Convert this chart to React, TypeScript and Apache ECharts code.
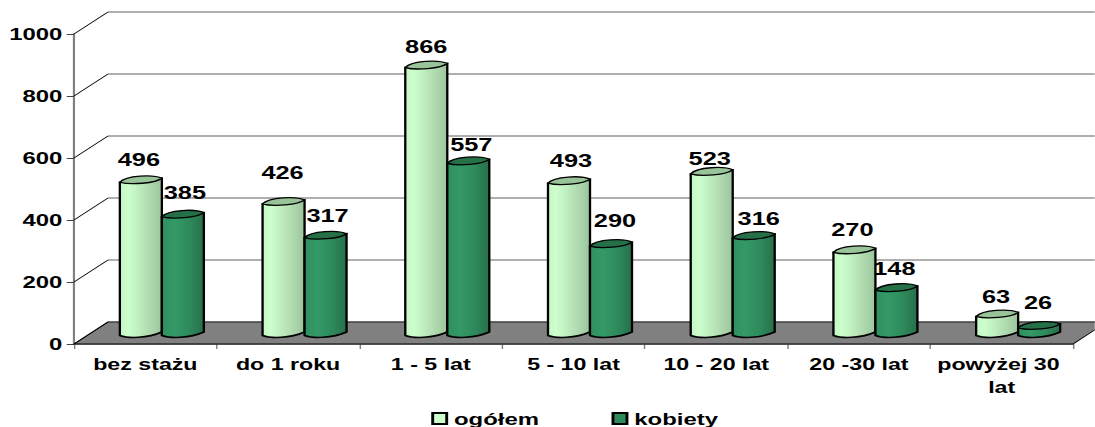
import React, { useEffect, useRef } from "react";
import * as echarts from "echarts";

const categories = ["bez stażu", "do 1 roku", "1 - 5 lat", "5 - 10 lat", "10 - 20 lat", "20 -30 lat", "powyżej 30 lat"];
const ogolem = [496, 426, 866, 493, 523, 270, 63];
const kobiety = [385, 317, 557, 290, 316, 148, 26];
const yTicks = [0, 200, 400, 600, 800, 1000];

// label nudges in page pixels relative to the top of each bar
const ogolemLabelDx = [-2, -1, 0, 2, -2, -2, -1];
const ogolemLabelDy = [-19, -28, -18, -19, -12, -19, -16];
const kobietyLabelDx = [2, 2, 3, 4, 5, -2, -1];
const kobietyLabelDy = [-21, -19, -15, -22, -16, -18, -22];

const SX = 1.45; // the reference is a horizontally stretched picture
const W = 1095;
const H = 427;
const DEPTH_X = 34 / SX;
const DEPTH_Y = 22;
const HW = 21 / SX;
const SHIFT = -0.5 / SX;
const FONT = '"Liberation Sans", Arial, sans-serif';

const grad = (stops: [number, string][]) => ({
  type: "linear", x: 0, y: 0, x2: 1, y2: 0,
  colorStops: stops.map(([offset, color]) => ({ offset, color })),
});

const lightFill = grad([[0, "#c4f8c4"], [0.2, "#ccffcc"], [0.55, "#b9e6b9"], [1, "#9cc49c"]]);
const darkFill = grad([[0, "#2f9060"], [0.3, "#339966"], [0.65, "#2e8a5c"], [1, "#276f4a"]]);

function barSeries(name: string, values: number[], side: number, fill: any, capFill: any, legendColor: string, dxs: number[], dys: number[]) {
  return {
    name,
    type: "custom",
    clip: false,
    z: 3,
    itemStyle: { color: legendColor, borderColor: "#000", borderWidth: 1 },
    encode: { x: 0, y: 1 },
    data: values.map((v, i) => [i, v]),
    renderItem: (_p: any, api: any) => {
      const i = api.value(0);
      const v = api.value(1);
      const p0 = api.coord([i, 0]);
      const p1 = api.coord([i, v]);
      const cx = p0[0] + DEPTH_X / 2 + SHIFT + side * HW;
      const base = p0[1] - DEPTH_Y / 2;
      const top = p1[1] - DEPTH_Y / 2;
      const l = cx - HW;
      const r = cx + HW;
      const body =
        `M${l} ${top + 3}L${l} ${base + 2.5}` +
        `C${l + HW * 0.4} ${base + 5.5} ${cx + HW * 0.3} ${base + 5.5} ${r} ${base - 1}` +
        `L${r} ${top - 1}Z`;
      const cap =
        `M${l} ${top + 3}C${cx - HW * 0.7} ${top - 4} ${cx + HW * 0.6} ${top - 5} ${r} ${top - 1}` +
        `C${cx + HW * 0.7} ${top + 4} ${cx - HW * 0.5} ${top + 6} ${l} ${top + 3}Z`;
      return {
        type: "group",
        children: [
          { type: "path", shape: { pathData: body }, style: { fill, stroke: "#000", lineWidth: 1.6 } },
          { type: "path", shape: { pathData: cap }, style: { fill: capFill, stroke: "#000", lineWidth: 1.3 } },
          {
            type: "text",
            z2: 10,
            style: {
              x: cx + dxs[i] / SX,
              y: top + dys[i],
              text: String(v),
              fill: "#000",
              font: `bold 17.5px ${FONT}`,
              align: "center",
              verticalAlign: "middle",
            },
          },
        ],
      };
    },
  };
}

export default function App() {
  const ref = useRef<HTMLDivElement>(null);
  useEffect(() => {
    const chart = echarts.init(ref.current!, undefined, { renderer: "svg" });
    chart.setOption({
      animation: false,
      backgroundColor: "#fff",
      grid: { left: 74 / SX, top: 34, width: 999 / SX, height: 310, containLabel: false },
      legend: {
        data: [
          { name: "ogółem", icon: "rect" },
          { name: "kobiety", icon: "rect" },
        ],
        left: 424 / SX,
        top: 405,
        itemWidth: 14 / SX,
        itemHeight: 11,
        itemGap: 50,
        textStyle: { fontFamily: FONT, fontWeight: "bold", fontSize: 16.5, color: "#000" },
      },
      xAxis: {
        type: "category",
        data: categories,
        axisLine: { lineStyle: { color: "#808080", width: 1.5 } },
        axisTick: { show: true, alignWithLabel: false, length: 5, lineStyle: { color: "#808080" } },
        axisLabel: {
          interval: 0,
          margin: 9,
          color: "#000",
          fontFamily: FONT,
          fontWeight: "bold",
          fontSize: 16,
          lineHeight: 23,
          width: 98,
          overflow: "break",
        },
      },
      yAxis: {
        type: "value",
        min: 0,
        max: 1000,
        interval: 200,
        splitLine: { show: false },
        axisLine: { show: true, lineStyle: { color: "#808080", width: 1.5 } },
        axisTick: { show: true, length: 5, lineStyle: { color: "#404040" } },
        axisLabel: {
          margin: 8,
          color: "#000",
          fontFamily: FONT,
          fontWeight: "bold",
          fontSize: 16.5,
          formatter: (v: number) => String(v),
        },
      },
      series: [
        {
          name: "podłoga",
          type: "custom",
          clip: false,
          silent: true,
          z: 1,
          encode: { x: 0, y: 1 },
          data: [[0, 0]],
          renderItem: (p: any, api: any) => {
            const c = p.coordSys;
            const y = api.coord([0, 0])[1];
            const xr = c.x + c.width;
            return {
              type: "group",
              children: [
                {
                  type: "polygon",
                  shape: { points: [[c.x, y], [c.x + DEPTH_X, y - DEPTH_Y], [xr + DEPTH_X, y - DEPTH_Y], [xr, y]] },
                  style: { fill: "#808080", stroke: "#000", lineWidth: 0.8 },
                },
              ],
            };
          },
        },
        {
          name: "ściana",
          type: "custom",
          clip: false,
          silent: true,
          z: 2,
          encode: { x: 0, y: 1 },
          data: yTicks.map((v) => [0, v]),
          renderItem: (p: any, api: any) => {
            const c = p.coordSys;
            const y = api.coord([0, api.value(1)])[1];
            return {
              type: "group",
              children: [
                {
                  type: "line",
                  shape: { x1: c.x + DEPTH_X, y1: y - DEPTH_Y, x2: c.x + c.width + DEPTH_X, y2: y - DEPTH_Y },
                  style: { stroke: "#606060", lineWidth: 1.2 },
                },
                {
                  type: "line",
                  shape: { x1: c.x, y1: y, x2: c.x + DEPTH_X, y2: y - DEPTH_Y },
                  style: { stroke: "#000", lineWidth: 0.8 },
                },
              ],
            };
          },
        },
        barSeries("ogółem", ogolem, -1, lightFill, "#99c399", "#ccffcc", ogolemLabelDx, ogolemLabelDy),
        barSeries("kobiety", kobiety, 1, darkFill, "#267048", "#2e8b5c", kobietyLabelDx, kobietyLabelDy),
      ],
    });
    return () => chart.dispose();
  }, []);
  return (
    <div
      ref={ref}
      style={{
        position: "absolute",
        left: 0,
        top: 0,
        width: W / SX,
        height: H,
        transformOrigin: "0 0",
        transform: `scaleX(${SX})`,
      }}
    />
  );
}
